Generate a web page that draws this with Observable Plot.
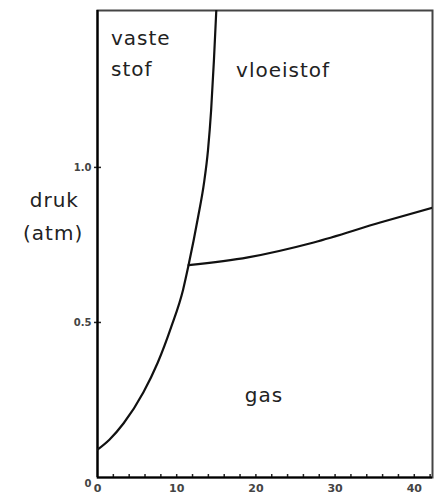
<!DOCTYPE html>
<html>
<head>
<meta charset="utf-8">
<script src="https://cdn.jsdelivr.net/npm/d3@7"></script>
<script src="https://cdn.jsdelivr.net/npm/@observablehq/plot@0.6"></script>
<style>
  html, body { margin: 0; padding: 0; background: #fff; }
  svg { display: block; }
</style>
</head>
<body>
<div id="chart"></div>
<script>
// Solid–gas / solid–liquid boundary (x: temperature-like scale, y: pressure in atm)
const meltX = [0, 1.5, 3.3, 5.8, 7.6, 9.3, 10.8, 11.5, 12.7, 13.45, 13.95, 14.35, 14.7, 15.0];
const meltY = [0.09, 0.122, 0.175, 0.275, 0.37, 0.485, 0.605, 0.685, 0.84, 0.95, 1.055, 1.185, 1.345, 1.506];
// Liquid–gas boundary
const vapX = [11.5, 19.0, 27.3, 35.8, 42.3];
const vapY = [0.685, 0.71, 0.758, 0.823, 0.87];

const xTickLabels = [0, 10, 20, 30, 40];
const xMinorTicks = [2, 4, 6, 8, 10, 12, 14, 16, 18, 20, 22, 24, 26, 28, 30, 32, 34, 36, 38, 40, 42];
const yTickLabels = [0, 0.5, 1.0];

const regionLabels = ["vaste", "stof", "vloeistof", "gas"];
const regionX = [1.7, 1.7, 17.5, 18.6];
const regionY = [1.414, 1.317, 1.311, 0.263];
const axisTitle = ["druk", "(atm)"];
const axisTitleX = [-5.45, -5.6];
const axisTitleY = [0.892, 0.785];

const melt = meltX.map((x, i) => ({x, y: meltY[i]}));
const vap = vapX.map((x, i) => ({x, y: vapY[i]}));
const regions = regionLabels.map((t, i) => ({t, x: regionX[i], y: regionY[i]}));
const titles = axisTitle.map((t, i) => ({t, x: axisTitleX[i], y: axisTitleY[i]}));

const W = 434, H = 497, mT = 10, mB = 20, mL = 97, mR = 2;

const chart = Plot.plot({
  width: W,
  height: H,
  marginTop: mT,
  marginBottom: mB,
  marginLeft: mL,
  marginRight: mR,
  style: {fontFamily: "DejaVu Sans, sans-serif", background: "#fff"},
  x: {domain: [0, 42.3]},
  y: {domain: [0, 1.506]},
  marks: [
    Plot.frame({stroke: "#444", strokeWidth: 2}),
    Plot.tickX(xMinorTicks, {x: d => d, insetTop: H - mT - mB - 3, stroke: "#222", strokeWidth: 1.5}),
    Plot.tickY(yTickLabels.filter(d => d > 0), {y: d => d, insetLeft: -3, insetRight: W - mL - mR - 4, stroke: "#222", strokeWidth: 1.5}),
    Plot.axisX({ticks: xTickLabels, tickSize: 0, tickPadding: 7, fontSize: 11, fontWeight: "bold", fill: "#444", label: null}),
    Plot.axisY({ticks: yTickLabels, tickSize: 0, tickPadding: 6, fontSize: 10, fontWeight: "bold", fill: "#444", label: null,
      tickFormat: d => d === 0 ? "0" : d.toFixed(1)}),
    Plot.ruleX([0], {stroke: "#000", strokeWidth: 2.2}),
    Plot.ruleY([0], {stroke: "#000", strokeWidth: 2.2}),
    Plot.line(melt, {x: "x", y: "y", curve: "monotone-x", stroke: "#111", strokeWidth: 2.2, clip: true}),
    Plot.line(vap, {x: "x", y: "y", curve: "monotone-x", stroke: "#111", strokeWidth: 2.2, clip: true}),
    Plot.text(regions, {x: "x", y: "y", text: "t", textAnchor: "start", fontSize: 20, fill: "#222"}),
    Plot.text(titles, {x: "x", y: "y", text: "t", textAnchor: "middle", fontSize: 20, fill: "#222"})
  ]
});

d3.select(chart).selectAll("g[aria-label='text'] text").style("letter-spacing", "1px");
d3.select(chart).selectAll("g[aria-label='y-axis tick label'] text").filter(d => d === 0).attr("dy", "0.6em");

document.getElementById("chart").appendChild(chart);
</script>
</body>
</html>
